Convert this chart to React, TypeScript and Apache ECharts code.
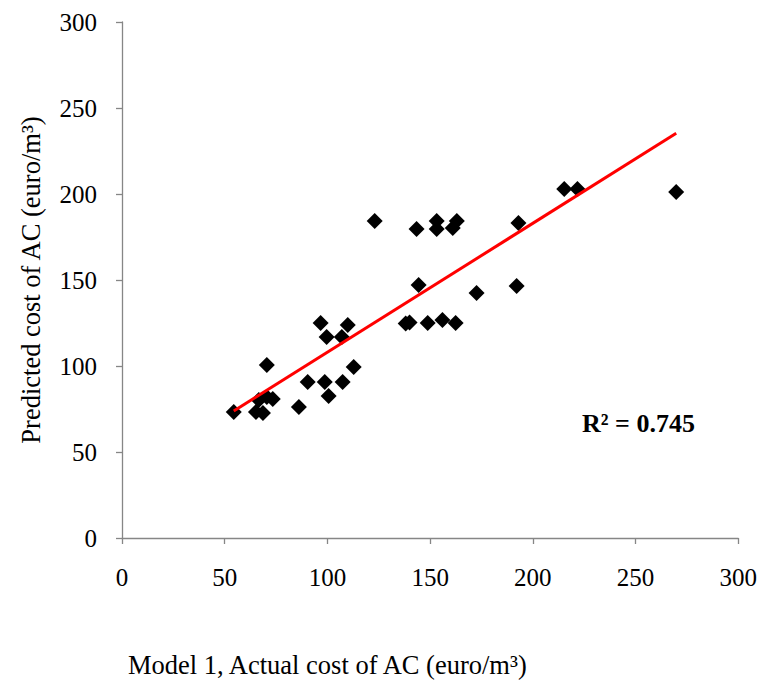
import React, { useEffect, useRef } from "react";
import * as echarts from "echarts";

const actualCost: number[] = [
  54.4, 65.2, 68.6, 66.6, 70.5, 73.4, 86.1, 70.5, 90.4, 98.7, 100.6, 107.4,
  112.8, 96.7, 109.9, 99.6, 107.0, 123.0, 143.4, 153.2, 153.2, 163.0, 161.0,
  144.4, 172.6, 138.1, 140.0, 148.8, 156.0, 162.4, 215.3, 221.7, 269.8, 193.0,
  192.1,
];
const predictedCost: number[] = [
  73.3, 73.3, 72.7, 80.2, 82.0, 80.8, 76.2, 100.6, 90.7, 90.7, 82.6, 90.7,
  99.4, 125.0, 123.8, 116.9, 116.9, 184.3, 179.7, 184.3, 179.7, 184.3, 180.2,
  147.1, 142.4, 124.7, 125.3, 125.0, 126.7, 125.0, 202.9, 202.9, 201.2, 183.1,
  146.5,
];
const trendX: number[] = [54.4, 269.8];
const trendY: number[] = [73.8, 235.3];
const axisTicks = { min: 0, max: 300, interval: 50 };
const r2Label = "R² = 0.745";
const xTitle = "Model 1, Actual cost of AC (euro/m³)";
const yTitle = "Predicted cost of AC (euro/m³)";

const FONT = "'Liberation Serif', 'Times New Roman', serif";

export default function App() {
  const ref = useRef<HTMLDivElement>(null);
  useEffect(() => {
    if (!ref.current) return;
    const chart = echarts.init(ref.current, undefined, { renderer: "svg" });
    const axisLine = { show: true, lineStyle: { color: "#868686", width: 1.3 } };
    chart.setOption({
      animation: false,
      backgroundColor: "#ffffff",
      textStyle: { fontFamily: FONT },
      grid: { left: 122, right: 21, top: 22, bottom: 144, containLabel: false },
      xAxis: {
        type: "value",
        min: axisTicks.min,
        max: axisTicks.max,
        interval: axisTicks.interval,
        axisLine,
        axisTick: { show: true, length: 6, lineStyle: { color: "#868686", width: 1.3 } },
        splitLine: { show: false },
        axisLabel: { color: "#000", fontSize: 25, fontFamily: FONT, margin: 27 },
      },
      yAxis: {
        type: "value",
        min: axisTicks.min,
        max: axisTicks.max,
        interval: axisTicks.interval,
        axisLine,
        axisTick: { show: true, length: 6, lineStyle: { color: "#868686", width: 1.3 } },
        splitLine: { show: false },
        axisLabel: { color: "#000", fontSize: 25, fontFamily: FONT, margin: 25 },
        name: yTitle,
        nameLocation: "middle",
        nameGap: 78,
        nameRotate: 90,
        nameTextStyle: { color: "#000", fontSize: 26.5, fontFamily: FONT },
      },
      graphic: [
        {
          type: "text",
          left: 128,
          top: 651,
          style: { text: xTitle, fill: "#000", font: `26.5px ${FONT}` },
        },
        {
          type: "text",
          left: 582,
          top: 410,
          style: { text: r2Label, fill: "#000", font: `bold 26px ${FONT}` },
        },
      ],
      series: [
        {
          type: "scatter",
          symbol: "diamond",
          symbolSize: 16,
          itemStyle: { color: "#000", opacity: 1 },
          data: actualCost.map((x, i) => [x, predictedCost[i]]),
          z: 2,
        },
        {
          type: "line",
          symbol: "none",
          lineStyle: { color: "#ff0000", width: 3 },
          data: trendX.map((x, i) => [x, trendY[i]]),
          z: 3,
        },
      ],
    });
    return () => chart.dispose();
  }, []);
  return (
    <div
      ref={ref}
      style={{ position: "absolute", left: 0, top: 0, width: 760, height: 682 }}
    />
  );
}
